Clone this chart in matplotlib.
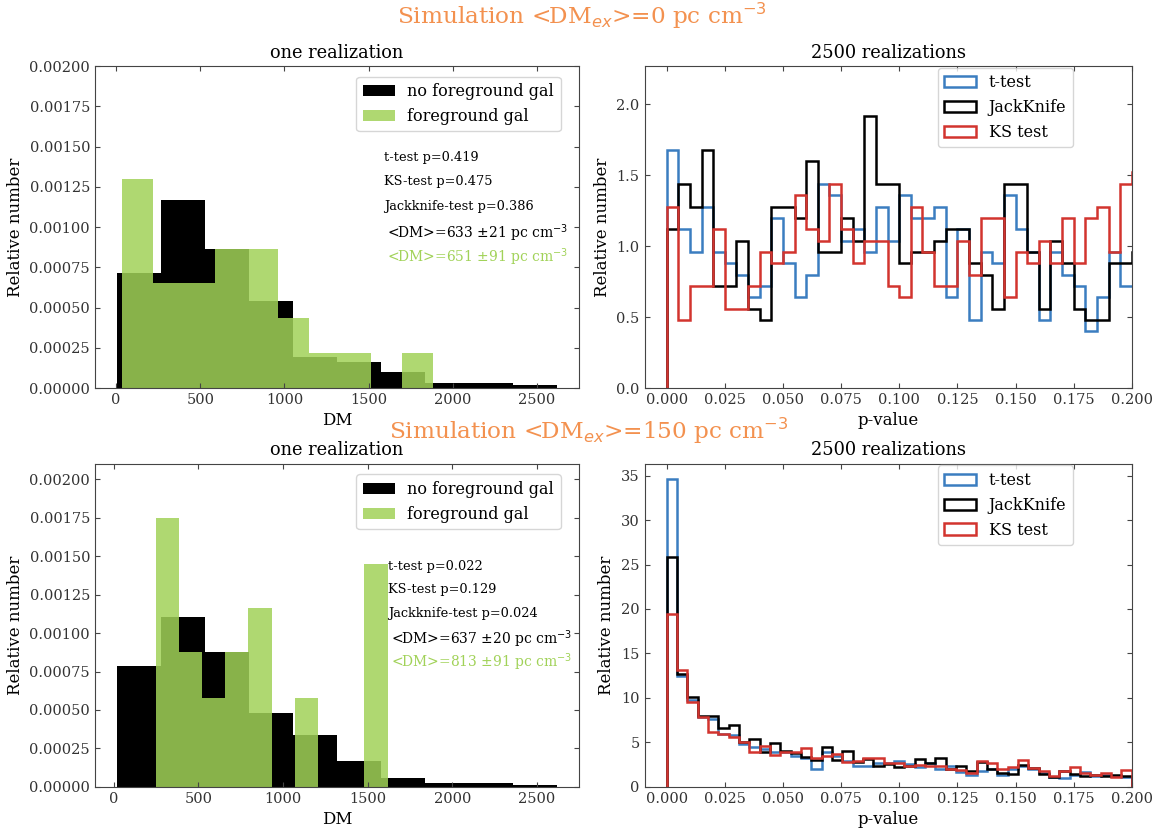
import numpy as np
import matplotlib
matplotlib.use('Agg')
import matplotlib.pyplot as plt

plt.rcParams['font.family'] = 'DejaVu Serif'
plt.rcParams['xtick.direction'] = 'in'
plt.rcParams['ytick.direction'] = 'in'
plt.rcParams['xtick.top'] = True
plt.rcParams['ytick.right'] = True
plt.rcParams['axes.edgecolor'] = '#444444'
plt.rcParams['xtick.color'] = '#444444'
plt.rcParams['ytick.color'] = '#444444'
plt.rcParams['xtick.labelcolor'] = '#333333'
plt.rcParams['ytick.labelcolor'] = '#333333'

# ---- one realization, <DM_ex>=0 ----
top_nofg_edges = np.linspace(5, 2620, 11)
top_nofg = [0.000713, 0.001166, 0.000865, 0.000542, 0.00019, 0.00016,
            0.0000972, 0.00003, 0.00003, 0.00002]
top_fg_edges = np.linspace(35, 1885, 21)
top_fg = [0.0013, 0.0013, 0.000651, 0.000651, 0.000651, 0.000651,
          0.000865, 0.000865, 0.000865, 0.000865, 0.000434, 0.000434,
          0.000217, 0.000217, 0.000217, 0.000217, 0.0, 0.0,
          0.000217, 0.000217]
top_text = ['t-test p=0.419', 'KS-test p=0.475', 'Jackknife-test p=0.386',
            '<DM>=633 $\\pm$21 pc cm$^{-3}$', '<DM>=651 $\\pm$91 pc cm$^{-3}$']

# ---- one realization, <DM_ex>=150 ----
bot_nofg_edges = np.linspace(19, 2619, 11)
bot_nofg = [0.000787, 0.001103, 0.000874, 0.000482, 0.000338, 0.00017,
            0.000057, 0.000024, 0.000024, 0.000011]
bot_fg_edges = np.linspace(248, 1618, 11)
bot_fg = [0.001746, 0.000874, 0.00058, 0.000874, 0.001162, 0.0,
          0.00058, 0.0, 0.0, 0.00145]
bot_text = ['t-test p=0.022', 'KS-test p=0.129', 'Jackknife-test p=0.024',
            '<DM>=637 $\\pm$20 pc cm$^{-3}$', '<DM>=813 $\\pm$91 pc cm$^{-3}$']

# ---- 2500 realizations, <DM_ex>=0 (bin width 0.005) ----
top_pbins = np.linspace(0, 0.205, 42)
top_ttest = [1.68, 1.12, 0.96, 1.28, 0.96, 0.88, 0.80, 0.64, 0.72, 1.20,
             0.88, 0.64, 0.80, 1.44, 1.36, 1.04, 1.12, 0.96, 1.28, 1.04,
             1.36, 1.20, 1.20, 1.28, 0.64, 1.12, 0.48, 0.96, 0.88, 1.36,
             1.12, 0.96, 0.48, 0.96, 0.80, 0.72, 0.40, 0.64, 0.96, 0.72, 0.72]
top_jack = [1.12, 1.44, 1.28, 1.68, 0.72, 0.72, 1.04, 0.56, 0.48, 1.28,
            1.28, 1.20, 1.60, 0.96, 0.96, 1.20, 1.04, 1.92, 1.44, 1.44,
            0.88, 0.96, 0.96, 1.04, 1.12, 1.12, 0.88, 0.80, 0.56, 1.44,
            1.44, 0.96, 0.56, 1.04, 0.88, 0.56, 0.48, 0.48, 0.88, 0.88, 0.96]
top_ks = [1.28, 0.48, 0.72, 0.72, 1.12, 0.56, 0.56, 0.72, 0.96, 0.88,
          0.96, 1.36, 1.12, 1.04, 1.44, 1.12, 0.88, 1.04, 1.04, 0.72,
          0.64, 1.28, 0.96, 0.72, 0.72, 1.04, 0.80, 1.20, 1.20, 0.64,
          0.96, 0.88, 1.04, 0.88, 1.20, 0.88, 1.20, 1.28, 0.96, 1.44, 1.52]

# ---- 2500 realizations, <DM_ex>=150 (45 bins up to 0.2) ----
bot_pbins = np.linspace(0, 0.2, 46)
bot_ttest = [34.6, 12.5, 9.8, 7.9, 7.6, 6.0, 5.8, 4.8, 4.5, 4.3,
             3.9, 3.9, 3.5, 3.3, 2.0, 3.9, 3.5, 2.9, 2.4, 2.4,
             2.7, 2.7, 2.9, 2.6, 2.2, 2.7, 2.0, 2.3, 1.7, 1.3,
             1.8, 2.0, 1.4, 2.0, 2.4, 2.0, 1.6, 1.1, 1.0, 1.4,
             1.7, 1.2, 1.4, 1.2, 1.1]
bot_jack = [25.8, 12.7, 10.1, 8.0, 8.0, 6.6, 7.0, 5.0, 5.4, 3.9,
            4.9, 4.0, 3.8, 3.4, 3.0, 4.5, 3.0, 4.0, 2.8, 3.1,
            2.4, 2.6, 2.2, 2.4, 3.1, 2.7, 3.2, 2.0, 2.3, 1.8,
            2.8, 2.0, 1.6, 1.5, 2.5, 2.1, 1.5, 1.1, 1.8, 1.5,
            1.2, 1.3, 1.2, 1.4, 1.2]
bot_ks = [19.4, 13.1, 9.5, 7.9, 6.2, 5.9, 5.6, 5.0, 3.9, 4.6,
          3.6, 3.9, 3.9, 4.4, 3.2, 3.5, 3.7, 2.8, 2.9, 3.2,
          3.2, 2.7, 2.7, 2.4, 2.5, 2.3, 2.3, 2.0, 1.9, 1.6,
          2.9, 2.7, 2.0, 2.2, 3.0, 2.1, 1.8, 1.2, 1.8, 2.2,
          1.6, 1.4, 1.6, 1.1, 1.9]

green = '#a1d258'
blue = '#3b7dc0'
red = '#d2342e'
orange = '#f3914f'

fig = plt.figure(figsize=(11.58, 8.31), dpi=100)
ax1 = fig.add_axes([0.082, 0.533, 0.418, 0.3875])
ax2 = fig.add_axes([0.5566, 0.533, 0.4208, 0.3875])
ax3 = fig.add_axes([0.082, 0.053, 0.418, 0.389])
ax4 = fig.add_axes([0.5566, 0.053, 0.4208, 0.389])


def one_realization(ax, e0, h0, e1, h1, texts, xtext, ytop):
    ax.hist(e0[:-1], bins=e0, weights=h0, color='k', label='no foreground gal')
    ax.hist(e1[:-1], bins=e1, weights=h1, color=green, alpha=0.85,
            label='foreground gal')
    ax.set_ylim(0, ytop)
    ax.set_xlabel('DM', fontsize=12)
    ax.set_ylabel('Relative number', fontsize=12)
    ax.set_title('one realization', fontsize=12.8)
    ax.tick_params(labelsize=10.5)
    ax.legend(loc='upper right', bbox_to_anchor=(0.962, 0.967), borderaxespad=0,
              fontsize=11.5, edgecolor='#cccccc')
    ys = [0.00143, 0.00128, 0.001125, 0.00096, 0.00081]
    cols = ['k', 'k', 'k', 'k', green]
    sizes = [9.3, 9.3, 9.3, 10, 10]
    shift = [0, 0, 0, 18, 18]
    for t, y, c, s, dx in zip(texts, ys, cols, sizes, shift):
        ax.text(xtext + dx, y, t, color=c, fontsize=s, va='center')


def many_realizations(ax, bins, t, j, k):
    ax.hist(bins[:-1], bins=bins, weights=t, histtype='step', color=blue,
            lw=1.8, label='t-test')
    ax.hist(bins[:-1], bins=bins, weights=j, histtype='step', color='k',
            lw=1.8, label='JackKnife')
    ax.hist(bins[:-1], bins=bins, weights=k, histtype='step', color=red,
            lw=1.8, label='KS test')
    ax.set_xlim(-0.0095, 0.2)
    ax.set_xlabel('p-value', fontsize=12)
    ax.set_ylabel('Relative number', fontsize=12)
    ax.set_title('2500 realizations', fontsize=12.8)
    ax.tick_params(labelsize=10.5)
    ax.legend(loc='upper right', bbox_to_anchor=(0.879, 0.995), borderaxespad=0,
              fontsize=11.5, edgecolor='#cccccc')


one_realization(ax1, top_nofg_edges, top_nofg, top_fg_edges, top_fg,
                top_text, 1590, 0.002)
one_realization(ax3, bot_nofg_edges, bot_nofg, bot_fg_edges, bot_fg,
                bot_text, 1620, 0.0021)
many_realizations(ax2, top_pbins, top_ttest, top_jack, top_ks)
ax2.set_ylim(0, 2.27)
many_realizations(ax4, bot_pbins, bot_ttest, bot_jack, bot_ks)

fig.text(0.503, 0.981, 'Simulation <DM$_{ex}$>=0 pc cm$^{-3}$', color=orange,
         fontsize=16.7, ha='center', va='center')
fig.text(0.508, 0.481, 'Simulation <DM$_{ex}$>=150 pc cm$^{-3}$', color=orange,
         fontsize=16.7, ha='center', va='center')

fig.savefig('out.png', dpi=100)
